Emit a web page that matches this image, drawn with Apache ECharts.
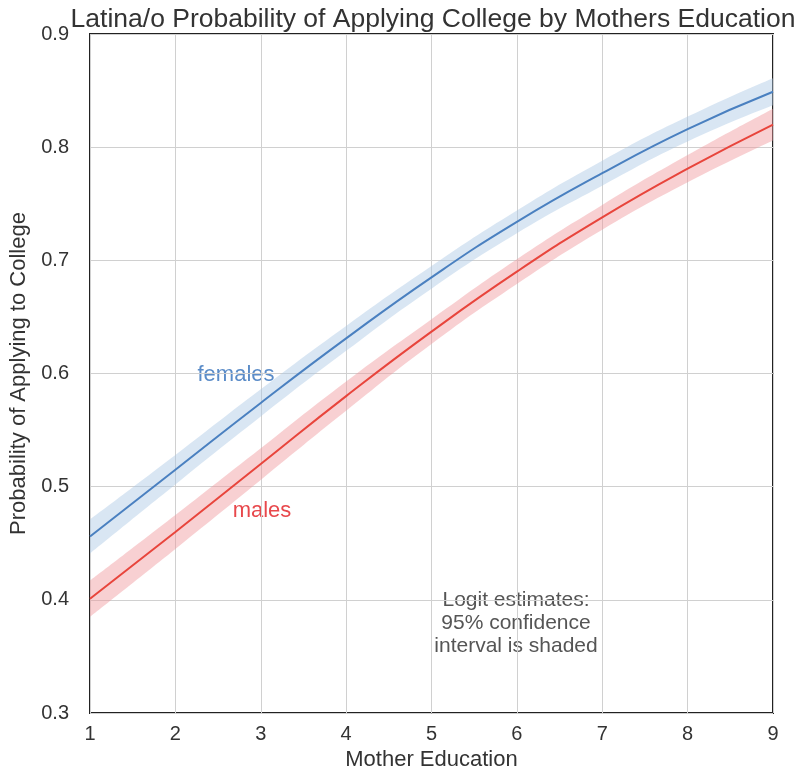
<!DOCTYPE html>
<html><head><meta charset="utf-8">
<script src="https://cdn.jsdelivr.net/npm/echarts@6/dist/echarts.min.js"></script>
<style>html,body{margin:0;padding:0;background:#fff}#c{width:796px;height:772px}</style>
</head><body><div id="c"></div>
<script>
const categories = ['1','2','3','4','5','6','7','8','9'];
const femalesFit = [0.456,0.515,0.574,0.631,0.685,0.734,0.777,0.816,0.849];
const femalesLow = [0.441,0.502,0.562,0.620,0.675,0.724,0.766,0.805,0.837];
const femalesHigh = [0.471,0.528,0.586,0.642,0.695,0.744,0.788,0.827,0.861];
const malesFit = [0.401,0.460,0.520,0.580,0.637,0.690,0.738,0.781,0.820];
const malesLow = [0.385,0.445,0.506,0.567,0.626,0.679,0.727,0.769,0.806];
const malesHigh = [0.417,0.475,0.534,0.593,0.648,0.701,0.749,0.793,0.834];

const diff = (a,b)=>a.map((v,i)=>+(v-b[i]).toFixed(4));
const FONT = 'Liberation Sans';
const chart = echarts.init(document.getElementById('c'));
chart.setOption({
  animation:false,
  textStyle:{fontFamily:FONT},
  title:{text:'Latina/o Probability of Applying College by Mothers Education',left:428,top:1,textAlign:'center',
    textStyle:{fontFamily:FONT,fontSize:26.5,fontWeight:'normal',color:'#333'}},
  grid:{left:90,right:23,top:34,bottom:59,show:true,borderColor:'#222',borderWidth:2,backgroundColor:'transparent',
    containLabel:false,outerBoundsMode:'none'},
  xAxis:{type:'category',data:categories,boundaryGap:false,
    name:'Mother Education',nameLocation:'middle',nameGap:35,
    nameTextStyle:{fontFamily:FONT,fontSize:22,color:'#333'},
    axisLine:{show:false},axisTick:{show:false},
    axisLabel:{fontFamily:FONT,fontSize:20,color:'#333',margin:11},
    splitLine:{show:true,lineStyle:{color:'#d0d0d0',width:1}}},
  yAxis:{type:'value',min:0.3,max:0.9,interval:0.1,
    name:'Probability of Applying to College',nameLocation:'middle',nameGap:58,
    nameTextStyle:{fontFamily:FONT,fontSize:22,color:'#333'},
    axisLine:{show:false},axisTick:{show:false},
    axisLabel:{fontFamily:FONT,fontSize:20,color:'#333',margin:21,formatter:v=>v.toFixed(1)},
    splitLine:{show:true,lineStyle:{color:'#d0d0d0',width:1}}},
  series:[
    {type:'line',data:femalesLow,stack:'f',smooth:true,symbol:'none',lineStyle:{opacity:0},silent:true},
    {type:'line',data:diff(femalesHigh,femalesLow),stack:'f',smooth:true,symbol:'none',lineStyle:{opacity:0},
      areaStyle:{color:'rgba(170,200,228,0.45)',opacity:1},silent:true},
    {type:'line',data:malesLow,stack:'m',smooth:true,symbol:'none',lineStyle:{opacity:0},silent:true},
    {type:'line',data:diff(malesHigh,malesLow),stack:'m',smooth:true,symbol:'none',lineStyle:{opacity:0},
      areaStyle:{color:'rgba(240,150,155,0.45)',opacity:1},silent:true},
    {type:'line',name:'females',data:femalesFit,smooth:true,symbol:'none',lineStyle:{color:'#4a80c0',width:2}},
    {type:'line',name:'males',data:malesFit,smooth:true,symbol:'none',lineStyle:{color:'#e8453c',width:2}}
  ],
  graphic:[
    {type:'text',x:236,y:375,style:{text:'females',fill:'#5b8cc8',font:'22px "Liberation Sans"',textAlign:'center',textVerticalAlign:'middle'}},
    {type:'text',x:262,y:511,style:{text:'males',fill:'#e8484c',font:'22px "Liberation Sans"',textAlign:'center',textVerticalAlign:'middle'}},
    {type:'text',x:516,y:623,style:{text:'Logit estimates:\n95% confidence\ninterval is shaded',fill:'#555',
      font:'21px "Liberation Sans"',textAlign:'center',textVerticalAlign:'middle',lineHeight:23}}
  ]
});
</script></body></html>
